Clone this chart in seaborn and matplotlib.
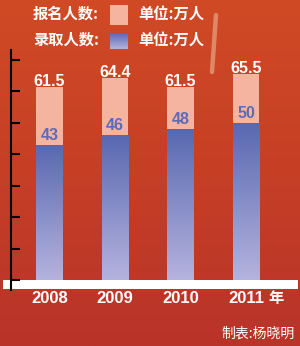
import numpy as np
import pandas as pd
import matplotlib
matplotlib.use("Agg")
import matplotlib.pyplot as plt
import seaborn as sns
from matplotlib.patches import Rectangle
from matplotlib.lines import Line2D
from matplotlib.colors import LinearSegmentedColormap

# ---- data ----
years = ["2008", "2009", "2010", "2011"]
applicants = [61.5, 64.4, 61.5, 65.5]
admitted = [43, 46, 48, 50]
year_suffix = "年"
legend_labels = ["报名人数:", "录取人数:"]
unit_label = "单位:万人"
credit = "制表:杨晓明"
y_ticks = [0, 10, 20, 30, 40, 50, 60, 70]

sns.set_theme(style="white")
plt.rcParams['font.family'] = ['Liberation Sans', 'Noto Sans CJK SC', 'DejaVu Sans']
CJK = ['Noto Sans CJK SC', 'DejaVu Sans']

W, H = 300, 346
fig = plt.figure(figsize=(W / 100, H / 100), dpi=100)
fig.patch.set_facecolor("#C63F27")

# background gradient
grad = np.linspace(0, 1, 256)[:, None]
bg = fig.add_axes([0, 0, 1, 1], zorder=-10)
bg_cmap = LinearSegmentedColormap.from_list("bg", ["#D04A25", "#C63F26", "#B9332A"])
bg.imshow(grad, aspect='auto', cmap=bg_cmap, extent=[0, 1, 0, 1])
bg.set_axis_off()

# decorative streak
fig.add_artist(Line2D([216 / W, 212 / W], [1 - 15 / H, 1 - 72 / H], lw=3.2, color="#E7A487",
                      alpha=0.7, solid_capstyle='round', zorder=-8))

# white base band
fig.add_artist(Rectangle((3 / W, (H - 289) / H), 295 / W, 9 / H, transform=fig.transFigure,
                         facecolor='white', edgecolor='none', zorder=-5))

ax = fig.add_axes([11 / W, (H - 290) / H, 287 / W, 240 / H])
ax.set_facecolor('none')

df = pd.DataFrame({"year": years, "applicants": applicants, "admitted": admitted})
sns.barplot(data=df, x="year", y="applicants", color="#F4B4A0", width=0.41, ax=ax,
            saturation=1, errorbar=None, zorder=2, linewidth=0)
sns.barplot(data=df, x="year", y="admitted", color="#5A6CB2", width=0.41, ax=ax,
            saturation=1, errorbar=None, zorder=3, linewidth=0)

blue_cmap = LinearSegmentedColormap.from_list("blue", ["#5868B0", "#B5B3DE"])
for p in ax.containers[1]:
    x0, y0, w, h = p.get_x(), p.get_y(), p.get_width(), p.get_height()
    im = ax.imshow(grad, aspect='auto', cmap=blue_cmap, extent=[x0, x0 + w, y0, y0 + h], zorder=4)
    im.set_clip_path(p)

ax.set_xlim(-0.588, 3.794)
ax.set_ylim(-3.18, 73.2)

for i, (a, b) in enumerate(zip(applicants, admitted)):
    ax.annotate(f"{a:g}", (i, a), xytext=(0, 0.8), textcoords='offset points', ha='center',
                va='baseline', color='white', fontsize=11.5, fontweight='bold', zorder=6)
    ax.annotate(f"{b:g}", (i, b), xytext=(0, 3.8), textcoords='offset points', ha='center',
                va='baseline', color='#5B6CB9', fontsize=11.5, fontweight='bold', zorder=6)

for s in ['top', 'right', 'bottom']:
    ax.spines[s].set_visible(False)
ax.spines['left'].set_color('black')
ax.spines['left'].set_linewidth(1.5)
ax.set_yticks(y_ticks)
ax.set_yticklabels([])
ax.tick_params(axis='y', direction='in', length=6.5, width=1.5, color='black', left=True)
ax.tick_params(axis='x', length=0, pad=0.5, labelcolor='white', labelsize=12)
for lbl in ax.get_xticklabels():
    lbl.set_fontweight('bold')
ax.set_xlabel('')
ax.set_ylabel('')

ax.annotate(year_suffix, xy=(3, 0), xycoords=('data', 'axes fraction'), xytext=(21.5, 0),
            textcoords='offset points', ha='center', va='top', color='white', fontsize=11,
            fontweight='bold', family=CJK, annotation_clip=False)

# legend
rows_y = [13.5, 39.5]
fig.text(33 / W, 1 - rows_y[0] / H, legend_labels[0], ha='left', va='center', fontsize=11,
         fontweight='bold', color='white', family=CJK)
fig.text(33 / W, 1 - rows_y[1] / H, legend_labels[1], ha='left', va='center', fontsize=11,
         fontweight='bold', color='white', family=CJK)
fig.add_artist(Rectangle((110 / W, 1 - 25 / H), 18 / W, 20 / H, transform=fig.transFigure,
                         facecolor='#F4B4A0', edgecolor='none'))
sw = fig.add_axes([110 / W, 1 - 49 / H, 18 / W, 16 / H])
sw.imshow(grad, aspect='auto', cmap=blue_cmap, extent=[0, 1, 0, 1])
sw.set_axis_off()
for yy in rows_y:
    fig.text(138 / W, 1 - yy / H, unit_label, ha='left', va='center', fontsize=11,
             fontweight='bold', color='white', family=CJK)

fig.text(295 / W, 1 - 333.5 / H, credit, ha='right', va='center', fontsize=10,
         color='white', family=CJK)

fig.savefig('out.png', dpi=100, facecolor=fig.get_facecolor())
